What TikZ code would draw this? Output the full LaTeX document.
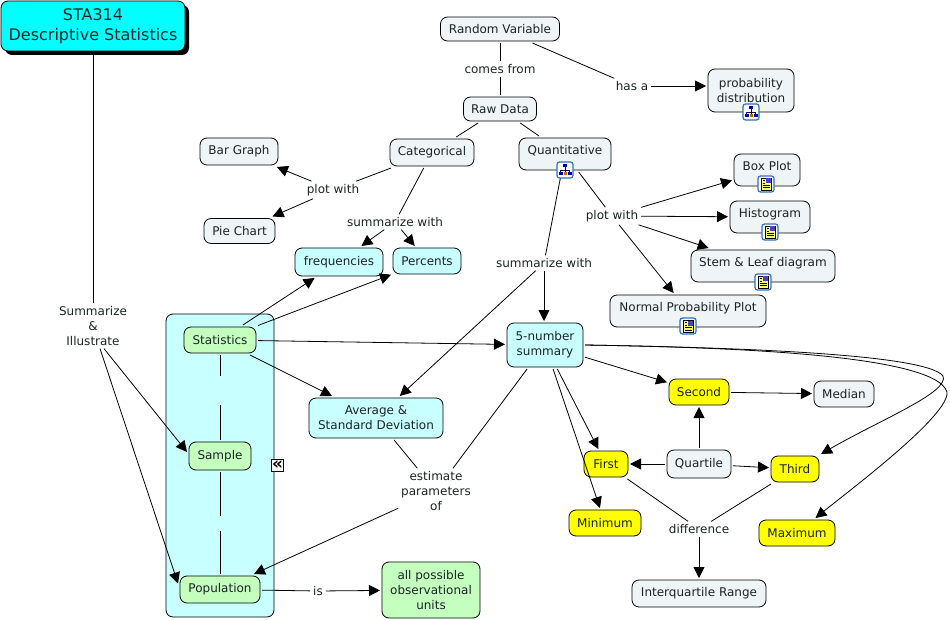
\documentclass[tikz,border=0pt]{standalone}
\usepackage{fontspec}
\setmainfont{DejaVu Sans}
\usetikzlibrary{arrows.meta,shadows}
\definecolor{titlefill}{RGB}{0,255,255}
\definecolor{greyfill}{HTML}{EFF4F6}
\definecolor{cyanfill}{HTML}{C8FFFF}
\definecolor{greenfill}{HTML}{C4FFC0}
\definecolor{yellowfill}{RGB}{255,255,0}
\definecolor{inktext}{HTML}{1C2426}
\definecolor{iconblue}{HTML}{2F6FC4}
\tikzset{
  concept/.style={draw=black, line width=0.8pt, rounded corners=7pt, align=center, inner sep=2pt,
    outer sep=2pt, font=\fontsize{12}{15}\selectfont, text=inktext},
  greybox/.style={concept, fill=greyfill},
  cyanbox/.style={concept, fill=cyanfill},
  greenbox/.style={concept, fill=greenfill},
  yellowbox/.style={concept, fill=yellowfill},
  phrase/.style={align=center, inner sep=1pt, outer sep=2pt, font=\fontsize{12}{15}\selectfont, text=inktext},
  hole/.style={inner sep=0pt, minimum width=0pt},
  hasicon/.style={text height=9pt, text depth=7pt, inner ysep=3pt},
  link/.style={draw=black, line width=0.8pt},
  treeicon/.pic={
    \draw [iconblue, fill=white, line width=1.2pt, rounded corners=2.5pt] (-8,-8) rectangle (8,8);
    \draw [black!70!blue, line width=0.7pt] (0,-3) -- (0,0) (-4.5,3) -- (-4.5,0) -- (4.5,0) -- (4.5,3) (0,0) -- (0,3);
    \fill [blue!70!black] (-2,-5.5) rectangle (2,-2.5);
    \fill [blue!70!black] (-6.5,2.5) rectangle (-2.5,5.5);
    \fill [orange!80!black] (-1.5,2.5) rectangle (1.5,5.5);
    \fill [blue!70!black] (2.5,2.5) rectangle (6.5,5.5);
  },
  docicon/.pic={
    \draw [iconblue, fill=white, line width=1.2pt, rounded corners=2.5pt] (-8,-8) rectangle (8,8);
    \draw [black, fill=yellowfill!55, line width=0.6pt] (-5,-6) rectangle (5,6);
    \fill [blue!45!gray] (0,-5.5) rectangle (4.5,-0.5);
    \draw [black, line width=0.6pt] (-3.5,-3.5) -- (-1,-3.5) (-3.5,-1) -- (-1,-1) (-3.5,1.5) -- (3.5,1.5) (-3.5,3.8) -- (3.5,3.8);
  }
}

\begin{document}
\begin{tikzpicture}[x=1pt, y=-1pt, >={Triangle[length=11pt,width=11pt]}]
  \useasboundingbox (0,0) rectangle (950,620);

  % nested set
  \node [draw=black, line width=0.8pt, fill=cyanfill, rounded corners=7pt, minimum width=108pt, minimum height=303pt, inner sep=0pt] (setbox) at (220,465.5) {};
  \node [draw=black, fill=white, line width=0.8pt, inner sep=0pt, minimum size=12pt, font=\fontsize{17}{17}\selectfont\bfseries] (setflag) at (277.5,465.5) {«};

  % concepts
  \node [concept, fill=titlefill, minimum width=184pt, minimum height=50pt, outer sep=3pt, font=\fontsize{16}{20}\selectfont,
    general shadow={fill=black, shadow xshift=4pt, shadow yshift=-4pt}] (title) at (93,26) {STA314\\Descriptive Statistics};
  \node [greybox, minimum width=119pt, minimum height=24pt] (randomvar) at (500,29) {Random Variable};
  \node [greybox, minimum width=73pt, minimum height=24pt] (rawdata) at (500,109) {Raw Data};
  \node [greybox, minimum width=86pt, minimum height=43pt] (probdist) at (751,90.5) {probability\\distribution};
  \node [greybox, minimum width=78pt, minimum height=27pt] (bargraph) at (239,151.5) {Bar Graph};
  \node [greybox, minimum width=84pt, minimum height=27pt] (categorical) at (432,152.5) {Categorical};
  \node [greybox, hasicon, minimum width=92pt, minimum height=32pt] (quantitative) at (565,154) {Quantitative};
  \node [greybox, hasicon, minimum width=66pt, minimum height=32pt] (boxplot) at (767,170) {Box Plot};
  \node [greybox, hasicon, minimum width=80pt, minimum height=32pt] (histogram) at (770,217) {Histogram};
  \node [greybox, hasicon, minimum width=144pt, minimum height=32pt] (stemleaf) at (763,266) {Stem \& Leaf diagram};
  \node [greybox, hasicon, minimum width=156pt, minimum height=32pt] (normalplot) at (688,311) {Normal Probability Plot};
  \node [greybox, minimum width=71pt, minimum height=25pt] (piechart) at (239.5,231) {Pie Chart};
  \node [cyanbox, minimum width=88pt, minimum height=28pt] (frequencies) at (339,262) {frequencies};
  \node [cyanbox, minimum width=68pt, minimum height=26pt] (percents) at (427,261) {Percents};
  \node [cyanbox, minimum width=76pt, minimum height=44pt] (fivenum) at (545,345) {5-number\\summary};
  \node [greenbox, minimum width=72pt, minimum height=26pt] (statistics) at (220,340) {Statistics};
  \node [greenbox, minimum width=62pt, minimum height=28pt] (sample) at (220,456) {Sample};
  \node [greenbox, minimum width=80pt, minimum height=27pt] (population) at (220,589.5) {Population};
  \node [cyanbox, minimum width=134pt, minimum height=40pt] (average) at (376,418) {Average \&\\Standard Deviation};
  \node [greenbox, minimum width=98pt, minimum height=56pt] (units) at (431,590) {all possible\\observational\\units};
  \node [yellowbox, minimum width=60pt, minimum height=26pt] (second) at (699,392) {Second};
  \node [greybox, minimum width=60pt, minimum height=26pt] (median) at (844,394) {Median};
  \node [yellowbox, minimum width=44pt, minimum height=26pt] (first) at (606,464) {First};
  \node [greybox, minimum width=64pt, minimum height=28pt] (quartile) at (699,464) {Quartile};
  \node [yellowbox, minimum width=48pt, minimum height=26pt] (third) at (795,469) {Third};
  \node [yellowbox, minimum width=72pt, minimum height=26pt] (minimum) at (605,523) {Minimum};
  \node [yellowbox, minimum width=76pt, minimum height=26pt] (maximum) at (797,533) {Maximum};
  \node [greybox, minimum width=134pt, minimum height=27pt] (iqr) at (699,593.5) {Interquartile Range};

  % linking phrases
  \node [phrase] (comesfrom) at (500,69) {comes from};
  \node [phrase] (hasa) at (632,86) {has a};
  \node [phrase] (plotcat) at (333,190) {plot with};
  \node [phrase] (sumcat) at (395,222) {summarize with};
  \node [phrase] (plotquant) at (612,216) {plot with};
  \node [phrase] (sumquant) at (544,263) {summarize with};
  \node [phrase] (illustrate) at (93,326) {Summarize\\\&\\Illustrate};
  \node [phrase] (estimate) at (436,491) {estimate\\parameters\\of};
  \node [phrase] (isphrase) at (318,591) {is};
  \node [phrase] (difference) at (699,529) {difference};
  \node [hole, minimum height=29pt] (holeA) at (220,390.5) {};
  \node [hole, minimum height=15pt] (holeB) at (220,523.5) {};
  \coordinate (bendA) at (943,376);
  \coordinate (bendB) at (947,392);

  % connectors
  \draw [link] (title) -- (illustrate);
  \draw [link, ->] ([xshift=11pt]illustrate.south) -- ([yshift=4pt]sample.west);
  \draw [link, ->] ([xshift=7pt]illustrate.south) -- ([yshift=6pt]population.west);
  \draw [link] (randomvar) -- (comesfrom);
  \draw [link] (comesfrom) -- (rawdata);
  \draw [link] (randomvar) -- (hasa);
  \draw [link, ->] (hasa) -- (hasa -| probdist.west);
  \draw [link] (rawdata) -- (categorical);
  \draw [link] (rawdata) -- (quantitative);
  \draw [link] (categorical) -- (plotcat);
  \draw [link, ->] (plotcat) -- (bargraph);
  \draw [link, ->] (plotcat) -- (piechart);
  \draw [link] (categorical) -- (sumcat);
  \draw [link, ->] (sumcat) -- (frequencies);
  \draw [link, ->] (sumcat) -- (percents);
  \draw [link] (quantitative) -- (plotquant);
  \draw [link, ->] (plotquant) -- (boxplot);
  \draw [link, ->] (plotquant) -- (histogram);
  \draw [link, ->] (plotquant) -- (stemleaf);
  \draw [link, ->] (plotquant) -- (normalplot);
  \draw [link] (quantitative) -- (sumquant);
  \draw [link, ->] (sumquant) -- (sumquant |- fivenum.north);
  \draw [link, ->] (sumquant) -- (average);
  \draw [link, ->] (statistics) -- (frequencies);
  \draw [link, ->] (statistics) -- (percents);
  \draw [link, ->] (statistics) -- (fivenum);
  \draw [link, ->] (statistics) -- (average);
  \draw [link] (statistics) -- (holeA);
  \draw [link] (holeA) -- (sample);
  \draw [link] (sample) -- (holeB);
  \draw [link] (holeB) -- (population);
  \draw [link] (average) -- (estimate);
  \draw [link] (fivenum) -- (estimate);
  \draw [link, ->] (estimate) -- (population);
  \draw [link] (population) -- (isphrase);
  \draw [link, ->] (isphrase) -- (units);
  \draw [link, ->] (fivenum) -- (second);
  \draw [link, ->] (fivenum) -- (first);
  \draw [link, ->] (fivenum) -- (minimum);
  \draw [link, ->] (fivenum.east) .. controls (700,347) and (925,352) .. (bendA) .. controls (950,392) and (880,420) .. (third);
  \draw [link, ->] (fivenum.east) .. controls (700,347) and (935,352) .. (bendB) .. controls (950,415) and (850,490) .. (maximum);
  \draw [link, ->] (second) -- (median);
  \draw [link, ->] (quartile) -- (second);
  \draw [link, ->] (quartile) -- (first);
  \draw [link, ->] (quartile) -- (third);
  \draw [link] (first) -- (difference);
  \draw [link] (third) -- (difference);
  \draw [link, ->] (difference) -- (iqr);

  % resource icons
  \pic at (751,112) {treeicon};
  \pic at (565,170) {treeicon};
  \pic at (766,184) {docicon};
  \pic at (770,232) {docicon};
  \pic at (763,282) {docicon};
  \pic at (688,326) {docicon};
\end{tikzpicture}
\end{document}
